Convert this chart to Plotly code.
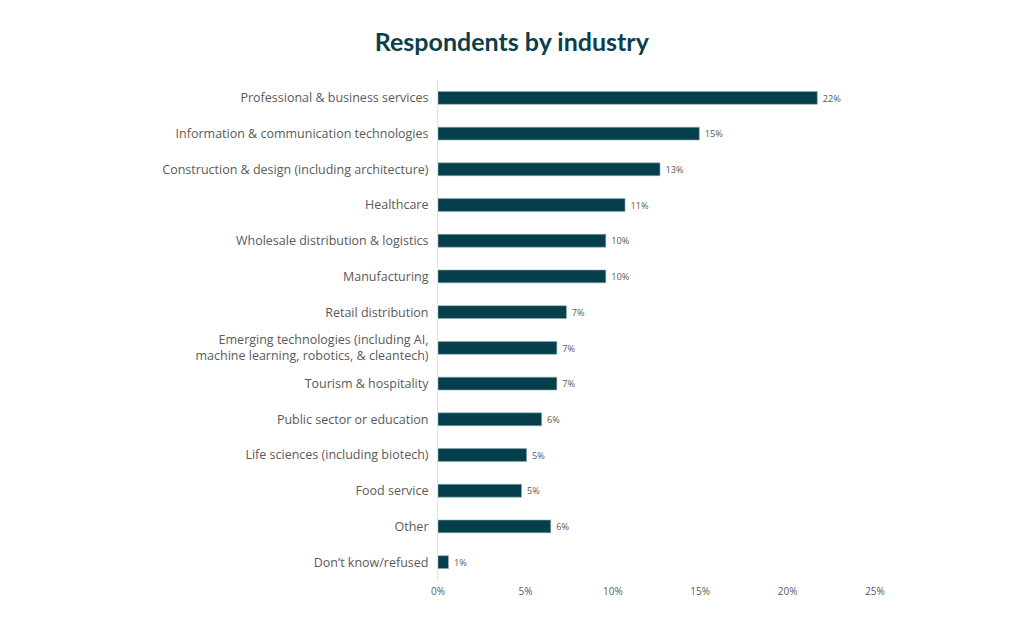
import plotly.graph_objects as go

# ---- data ----
industries = [
    "Professional & business services",
    "Information & communication technologies",
    "Construction & design (including architecture)",
    "Healthcare",
    "Wholesale distribution & logistics",
    "Manufacturing",
    "Retail distribution",
    "Emerging technologies (including AI,<br>machine learning, robotics, & cleantech)",
    "Tourism & hospitality",
    "Public sector or education",
    "Life sciences (including biotech)",
    "Food service",
    "Other",
    "Don\u2019t know/refused",
]
share = [21.7, 14.95, 12.7, 10.7, 9.6, 9.6, 7.35, 6.8, 6.8, 5.93, 5.07, 4.78, 6.45, 0.6]
labels = ["22%", "15%", "13%", "11%", "10%", "10%", "7%", "7%", "7%", "6%", "5%", "5%", "6%", "1%"]
ticks = [0, 5, 10, 15, 20, 25]

BAR = "#053f4c"
GREY = "#5a5a5a"

fig = go.Figure()
fig.add_trace(go.Bar(
    x=share, y=industries, orientation="h",
    marker=dict(color=BAR, line=dict(color="#8fb0b6", width=0.6)),
    width=0.36,
    text=[" " + s for s in labels], textposition="outside", cliponaxis=False,
    textfont=dict(family="Open Sans", size=10, color=GREY),
    hoverinfo="skip",
))

fig.update_layout(
    width=1024, height=631,
    paper_bgcolor="white", plot_bgcolor="white",
    margin=dict(l=430, r=157, t=72, b=59),
    showlegend=False,
    title=dict(text="<b>Respondents by industry</b>", x=0.492, xanchor="center",
               y=0.946, yanchor="middle",
               font=dict(family="Lato", size=25, color="#0b3f4b")),
    xaxis=dict(range=[0, 25], tickvals=ticks, ticktext=[f"{t}%" for t in ticks],
               showgrid=False, zeroline=False, showline=False, ticks="",
               ticklabelstandoff=4,
               tickfont=dict(family="Open Sans", size=10, color=GREY)),
    yaxis=dict(autorange="reversed", showgrid=False, zeroline=False,
               showline=True, linecolor="#e3e3e3", linewidth=1, ticks="",
               ticklabelstandoff=6,
               tickfont=dict(family="Open Sans", size=12.5, color=GREY)),
    bargap=0.64,
)

fig.write_html("out.html")
